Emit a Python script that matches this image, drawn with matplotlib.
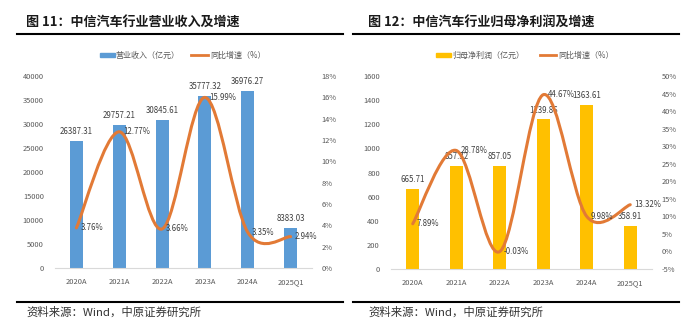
import matplotlib
matplotlib.use("Agg")
import matplotlib.pyplot as plt
from matplotlib.path import Path
from matplotlib.patches import PathPatch, Rectangle
from matplotlib.lines import Line2D
from matplotlib.ticker import FuncFormatter, MultipleLocator

plt.rcParams['font.family'] = ['Liberation Sans Narrow', 'Noto Sans CJK SC', 'DejaVu Sans']

years = ['2020A', '2021A', '2022A', '2023A', '2024A', '2025Q1']

# 营业收入 (亿元) and growth (%)
revenue = [26387.31, 29757.21, 30845.61, 35777.32, 36976.27, 8383.03]
revenue_growth = [3.76, 12.77, 3.66, 15.99, 3.35, 2.94]

# 归母净利润 (亿元) and growth (%)
profit = [665.71, 857.32, 857.05, 1239.86, 1363.61, 358.91]
profit_growth = [7.89, 28.78, -0.03, 44.67, 9.98, 13.32]

W, H = 700, 331
BLUE = '#5B9BD5'
GOLD = '#FFC000'
ORANGE = '#E27A36'
GRAY = '#595959'
CJK = ['Noto Sans CJK SC', 'DejaVu Sans']


def px_box(x0, x1, ytop, ybot):
    return [x0 / W, 1 - ybot / H, (x1 - x0) / W, (ybot - ytop) / H]


def smooth_path(xs, ys):
    # Excel-style smoothed line: cubic bezier segments, Catmull-Rom tangents
    pts = list(zip(xs, ys))
    n = len(pts)
    verts = [pts[0]]
    codes = [Path.MOVETO]
    for i in range(n - 1):
        p0 = pts[max(i - 1, 0)]
        p1 = pts[i]
        p2 = pts[i + 1]
        p3 = pts[min(i + 2, n - 1)]
        c1 = (p1[0] + (p2[0] - p0[0]) / 6, p1[1] + (p2[1] - p0[1]) / 6)
        c2 = (p2[0] - (p3[0] - p1[0]) / 6, p2[1] - (p3[1] - p1[1]) / 6)
        verts += [c1, c2, p2]
        codes += [Path.CURVE4] * 3
    return Path(verts, codes)


def panel(box, values, growth, color, vmax, vstep, gmin, gmax, gstep,
          title, xt, legend_name, leg_x, line_x0, line_x1):
    ax = fig.add_axes(box)
    x = list(range(len(years)))
    ax.bar(x, values, width=0.3, color=color, zorder=2)
    ax.set_xlim(-0.5, len(years) - 0.5)
    ax.set_ylim(0, vmax)
    ax.yaxis.set_major_locator(MultipleLocator(vstep))
    ax.set_xticks(x)
    ax.set_xticklabels(years)
    for s in ['top', 'left', 'right']:
        ax.spines[s].set_visible(False)
    ax.spines['bottom'].set_color('#D9D9D9')
    ax.tick_params(length=0, labelsize=5.4, labelcolor=GRAY, pad=8)
    ax.tick_params(axis='x', pad=7)
    for xi, v in zip(x, values):
        ax.annotate(f'{v:.2f}', (xi, v), xytext=(0, 3.5), textcoords='offset points',
                    ha='center', va='bottom', fontsize=5.7, color='#404040')

    ax2 = ax.twinx()
    ax2.set_ylim(gmin, gmax)
    ax2.yaxis.set_major_locator(MultipleLocator(gstep))
    ax2.yaxis.set_major_formatter(FuncFormatter(lambda v, p: f'{v:.0f}%'))
    for s in ax2.spines.values():
        s.set_visible(False)
    ax2.tick_params(length=0, labelsize=5.4, labelcolor=GRAY, pad=7)
    ax2.add_patch(PathPatch(smooth_path(x, growth), fill=False, edgecolor=ORANGE,
                            lw=2.2, capstyle='round', zorder=3))
    for xi, g in zip(x, growth):
        ax2.annotate(f'{g:.2f}%', (xi, g), xytext=(3, 0), textcoords='offset points',
                     ha='left', va='center', fontsize=5.7, color='#404040', zorder=4)

    # title, rules, legend and source
    fig.text(xt / W, 1 - 23 / H, title, fontsize=9.4, fontweight='heavy', family=CJK,
             va='center', ha='left', color='#1a1a1a')
    fig.add_artist(Line2D([box[0] - 38 / W, box[0] + 288 / W], [1 - 34 / H] * 2,
                          color='black', lw=1.5))
    fig.add_artist(Line2D([box[0] - 38 / W, box[0] + 288 / W], [1 - 302 / H] * 2,
                          color='black', lw=1.5))
    fig.text(xt / W, 1 - 312 / H, '资料来源：Wind，中原证券研究所', fontsize=8.2, family=CJK,
             va='center', ha='left', color='#333333')
    fig.add_artist(Rectangle((leg_x / W, 1 - 57 / H), 15 / W, 4 / H, color=color,
                             transform=fig.transFigure))
    fig.text((leg_x + 16) / W, 1 - 55 / H, legend_name, fontsize=5.8, family=CJK,
             va='center', ha='left', color=GRAY)
    fig.add_artist(Line2D([line_x0 / W, line_x1 / W], [1 - 55 / H] * 2, color=ORANGE, lw=2))
    fig.text((line_x1 + 2) / W, 1 - 55 / H, '同比增速（%）', fontsize=5.8, family=CJK,
             va='center', ha='left', color=GRAY)


fig = plt.figure(figsize=(7, 3.31), dpi=100)

panel(px_box(55, 312, 76, 268), revenue, revenue_growth, BLUE, 40000, 5000, 0, 18, 2,
      '图 11：中信汽车行业营业收入及增速', 26, '营业收入（亿元）', 100, 191, 208)
panel(px_box(391, 652, 76, 269), profit, profit_growth, GOLD, 1600, 200, -5, 50, 5,
      '图 12：中信汽车行业归母净利润及增速', 368, '归母净利润（亿元）', 436, 540, 556)

fig.savefig('out.png', dpi=100, facecolor='white')
